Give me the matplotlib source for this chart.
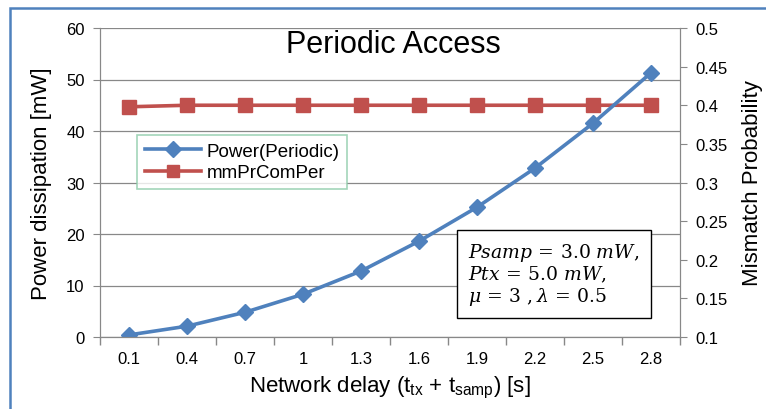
import numpy as np
import matplotlib
matplotlib.use('Agg')
from matplotlib import pyplot as plt
from matplotlib.lines import Line2D
from matplotlib.patches import Rectangle

delay_labels = ["0.1", "0.4", "0.7", "1", "1.3", "1.6", "1.9", "2.2", "2.5", "2.8"]
power_periodic = [0.4, 2.1, 4.8, 8.3, 12.8, 18.6, 25.2, 32.8, 41.5, 51.3]
mm_pr_com_per = [0.398, 0.4, 0.4, 0.4, 0.4, 0.4, 0.4, 0.4, 0.4, 0.4]

plt.rcParams['font.family'] = ['Liberation Sans Narrow', 'Liberation Sans', 'DejaVu Sans']

blue = "#4F81BD"
red = "#C0504D"

fig = plt.figure(figsize=(7.66, 4.10), dpi=100)
ax = fig.add_axes([100 / 766, 72 / 410, 580 / 766, 309 / 410])
ax2 = ax.twinx()

x = np.arange(len(delay_labels))

ax2.plot(x, mm_pr_com_per, color=red, lw=2.6, marker='s', ms=10, label="mmPrComPer")
ax.plot(x, power_periodic, color=blue, lw=2.6, marker='D', ms=8.5, label="Power(Periodic)")

ax.set_zorder(ax2.get_zorder() + 1)
ax.patch.set_visible(False)

ax.set_xlim(-0.5, 9.5)
ax.set_ylim(0, 60)
ax.set_yticks(range(0, 61, 10))
ax2.set_ylim(0.1, 0.5)
ax2.set_yticks([0.1, 0.15, 0.2, 0.25, 0.3, 0.35, 0.4, 0.45, 0.5])
ax2.set_yticklabels(["0.1", "0.15", "0.2", "0.25", "0.3", "0.35", "0.4", "0.45", "0.5"])

ax.set_xticks(x)
ax.set_xticklabels(delay_labels)
ax.set_xticks(np.arange(-0.5, 10, 1), minor=True)
ax.tick_params(axis='x', which='major', length=0, pad=10, labelsize=12)
ax.tick_params(axis='x', which='minor', length=6, color="#888888", width=1)
ax.tick_params(axis='y', length=5, color="#888888", labelsize=12, pad=6)
ax2.tick_params(axis='y', length=5, color="#888888", labelsize=12, pad=6)

ax.grid(axis='y', color="#888888", lw=0.9)
for a in (ax, ax2):
    for s in a.spines.values():
        s.set_color("#888888")
    a.spines['top'].set_visible(False)

ax.set_xlabel("Network delay (t$_{\\mathregular{tx}}$ + t$_{\\mathregular{samp}}$) [s]", fontsize=16, labelpad=6)
ax.set_ylabel("Power dissipation [mW]", fontsize=16, labelpad=10)
ax2.set_ylabel("Mismatch Probability", fontsize=16, labelpad=10)

fig.text(393 / 766, 1 - 45 / 410, "Periodic Access", fontsize=22, ha='center', va='center')

handles = [
    Line2D([], [], color=blue, lw=2.6, marker='D', ms=8),
    Line2D([], [], color=red, lw=2.6, marker='s', ms=9),
]
leg = ax.legend(handles, ["Power(Periodic)", "mmPrComPer"], loc='upper left',
                bbox_to_anchor=(37 / 580, (338 - 136) / 309), fontsize=13.5,
                frameon=True, fancybox=False, borderpad=0.4, handlelength=3,
                labelspacing=0.25, handletextpad=0.3, borderaxespad=0)
leg.get_frame().set_edgecolor("#8CCBA8")
leg.get_frame().set_linewidth(1.2)

ax.text(0.635, 0.31,
        "$Psamp\\,=\\,3.0\\ mW,$\n$Ptx\\,=\\,5.0\\ mW,$\n$\\mu\\,=\\,3\\ ,\\lambda\\,=\\,0.5$",
        transform=ax.transAxes, fontsize=13.5, va='top', ha='left', family='DejaVu Serif',
        math_fontfamily='dejavuserif', linespacing=1.05,
        bbox=dict(boxstyle='square,pad=0.6', fc='white', ec='black', lw=1))

fig.add_artist(Rectangle((10 / 766, -0.1), 1.0, 1 - 9 / 410 + 0.1, transform=fig.transFigure,
                         fill=False, ec=blue, lw=1.8))

plt.savefig("out.png", dpi=100)
